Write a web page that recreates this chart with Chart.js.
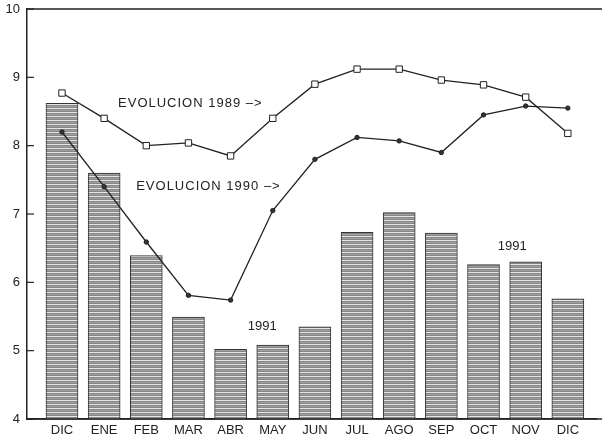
<!DOCTYPE html>
<html>
<head>
<meta charset="utf-8">
<script src="https://cdn.jsdelivr.net/npm/chart.js@4.4.0/dist/chart.umd.min.js"></script>
<style>
  body { margin: 0; background: #fff; }
  #wrap { width: 602px; height: 441px; position: relative; }
</style>
</head>
<body>
<div id="wrap"><canvas id="chart"></canvas></div>
<script>
// data
var months = ['DIC', 'ENE', 'FEB', 'MAR', 'ABR', 'MAY', 'JUN', 'JUL', 'AGO', 'SEP', 'OCT', 'NOV', 'DIC'];
var bars1991 = [8.62, 7.60, 6.39, 5.49, 5.02, 5.08, 5.35, 6.73, 7.02, 6.72, 6.26, 6.30, 5.76];
var evol1989 = [8.77, 8.40, 8.00, 8.04, 7.85, 8.40, 8.90, 9.12, 9.12, 8.96, 8.89, 8.71, 8.18];
var evol1990 = [8.20, 7.40, 6.59, 5.81, 5.74, 7.05, 7.80, 8.12, 8.07, 7.90, 8.45, 8.58, 8.55];
var yTicks = [4, 5, 6, 7, 8, 9, 10];
var noteTexts = ['EVOLUCION 1989 \u2013>', 'EVOLUCION 1990 \u2013>', '1991', '1991'];

var FONT = '"Liberation Sans", Arial, sans-serif';
var INK = '#222';

function pts(arr) {
  return arr.map(function(v, i) { return {x: i, y: v}; });
}

// striped grey fill like the scanned hatching
function stripes() {
  var c = document.createElement('canvas');
  c.width = 8; c.height = 4;
  var g = c.getContext('2d');
  g.fillStyle = '#868686';
  g.fillRect(0, 0, 8, 4);
  g.fillStyle = '#e6e6e6';
  g.fillRect(0, 0, 8, 1);
  g.fillStyle = '#a0a0a0';
  g.fillRect(0, 2, 8, 1);
  return g.createPattern(c, 'repeat');
}

var extras = {
  id: 'extras',
  afterDraw: function(chart) {
    var ctx = chart.ctx, a = chart.chartArea;
    var xs = chart.scales.x, ys = chart.scales.y;
    ctx.save();
    ctx.strokeStyle = INK;
    ctx.lineWidth = 1.5;
    // top frame line, bottom line runs to the edge
    ctx.beginPath();
    ctx.moveTo(a.left, a.top);
    ctx.lineTo(chart.width, a.top);
    ctx.moveTo(a.left, a.bottom);
    ctx.lineTo(chart.width, a.bottom);
    ctx.stroke();
    // short inward ticks
    ctx.lineWidth = 1.2;
    yTicks.forEach(function(t) {
      var y = ys.getPixelForValue(t);
      ctx.beginPath();
      ctx.moveTo(a.left, y);
      ctx.lineTo(a.left + 7, y);
      ctx.stroke();
    });
    // notes
    var where = [[1.33, 8.62, 'left'], [1.76, 7.40, 'left'], [4.75, 5.35, 'center'], [10.68, 6.53, 'center']];
    ctx.fillStyle = INK;
    ctx.font = '13px ' + FONT;
    ctx.textBaseline = 'middle';
    noteTexts.forEach(function(t, i) {
      var w = where[i];
      ctx.textAlign = w[2];
      ctx.letterSpacing = w[2] === 'left' ? '1px' : '0px';
      ctx.fillText(t, xs.getPixelForValue(w[0]), ys.getPixelForValue(w[1]));
    });
    ctx.restore();
  }
};

new Chart(document.getElementById('chart'), {
  data: {
    datasets: [
      {
        type: 'line',
        label: 'EVOLUCION 1989',
        data: pts(evol1989),
        borderColor: INK,
        borderWidth: 1.3,
        pointStyle: 'rect',
        pointRadius: 4.5,
        pointBackgroundColor: '#fff',
        pointBorderColor: INK,
        pointBorderWidth: 1,
        tension: 0,
        order: 1
      },
      {
        type: 'line',
        label: 'EVOLUCION 1990',
        data: pts(evol1990),
        borderColor: INK,
        borderWidth: 1.3,
        pointStyle: 'circle',
        pointRadius: 2.2,
        pointBackgroundColor: '#333',
        pointBorderColor: INK,
        pointBorderWidth: 1,
        tension: 0,
        order: 1
      },
      {
        type: 'bar',
        label: '1991',
        data: pts(bars1991),
        backgroundColor: stripes(),
        borderColor: '#333',
        borderWidth: 1,
        barThickness: 32,
        order: 2
      }
    ]
  },
  options: {
    responsive: true,
    maintainAspectRatio: false,
    animation: false,
    layout: { padding: { top: 9, right: 1, left: 0, bottom: 0 } },
    plugins: { legend: { display: false }, tooltip: { enabled: false } },
    scales: {
      x: {
        type: 'linear',
        offset: false,
        min: -0.83,
        max: 12.68,
        afterBuildTicks: function(s) {
          s.ticks = months.map(function(m, i) { return {value: i}; });
        },
        afterFit: function(s) { s.height = 22; },
        grid: { display: false, drawTicks: false, offset: false },
        border: { display: true, color: INK, width: 1.5 },
        ticks: {
          autoSkip: false,
          maxRotation: 0,
          padding: 4,
          color: INK,
          font: { family: FONT, size: 13 },
          callback: function(v) { return months[v]; }
        }
      },
      y: {
        min: 4,
        max: 10,
        afterBuildTicks: function(s) {
          s.ticks = yTicks.map(function(t) { return {value: t}; });
        },
        afterFit: function(s) {
          s.width = 27;
          s.paddingTop = 0;
          s.paddingBottom = 0;
        },
        grid: { display: false, drawTicks: false },
        border: { display: true, color: INK, width: 1.5 },
        ticks: {
          padding: 7,
          color: INK,
          font: { family: FONT, size: 13 }
        }
      }
    }
  },
  plugins: [extras]
});
</script>
</body>
</html>
